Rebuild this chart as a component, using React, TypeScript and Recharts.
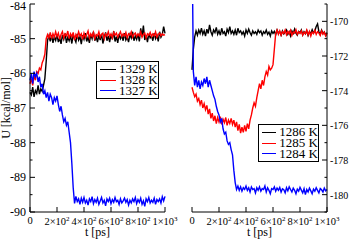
import React from 'react';
import { LineChart, Line, XAxis, YAxis, Legend } from 'recharts';

const FONT = "'Liberation Serif','Times New Roman',serif";

// time samples (ps)
const TIME: number[] = Array.from({ length: 101 }, (_, i) => i * 10);

const X_TICKS = [0, 200, 400, 600, 800, 1000];
const X_TICK_BASE = ['0', '2×10', '4×10', '6×10', '8×10', '1×10'];
const X_TICK_EXP = ['', '2', '2', '2', '2', '3'];

const LEFT_Y_TICKS = [-90, -89.5, -89, -88.5, -88, -87.5, -87, -86.5, -86, -85.5, -85, -84.5, -84];
const RIGHT_Y_TICKS = [-181, -180, -179, -178, -177, -176, -175, -174, -173, -172, -171, -170, -169];

const LEFT_NAMES = ['1329 K', '1328 K', '1327 K'];
const RIGHT_NAMES = ['1286 K', '1285 K', '1284 K'];
const COLORS = ['#000000', '#ff0000', '#0000ff'];

// Left panel, 1329 K
const L1329 = [
  -86.55, -86.62, -86.40, -86.68, -86.50, -86.58, -86.35, -86.60, -86.45, -86.52,
  -86.35, -86.15, -85.65, -85.05, -84.92, -85.08, -84.90, -85.12, -84.95, -85.05,
  -84.88, -85.10, -84.98, -85.15, -84.90, -85.02, -84.85, -85.12, -84.96, -85.06,
  -84.92, -85.14, -84.88, -85.00, -85.10, -84.86, -85.04, -84.94, -85.16, -84.90,
  -85.02, -84.84, -85.08, -84.96, -85.12, -84.88, -85.00, -84.80, -85.06, -84.94,
  -85.10, -84.90, -85.04, -84.86, -85.14, -84.96, -84.82, -85.06, -84.92, -85.10,
  -84.88, -85.02, -84.78, -85.08, -84.94, -85.12, -84.86, -85.00, -84.92, -85.06,
  -84.84, -85.04, -84.96, -85.10, -84.88, -84.98, -84.80, -85.06, -84.92, -85.02,
  -84.86, -85.08, -84.70, -84.94, -84.62, -85.04, -84.90, -85.10, -84.86, -84.98,
  -84.92, -85.06, -84.84, -85.00, -84.90, -85.08, -84.80, -84.96, -84.88, -84.65,
  -84.85,
];

// Left panel, 1328 K
const L1328 = [
  -86.30, -86.15, -86.35, -86.05, -86.20, -85.95, -86.00, -85.85, -85.90, -85.70,
  -85.60, -85.45, -85.00, -84.88, -84.98, -84.82, -85.00, -84.86, -84.96, -84.80,
  -84.94, -84.84, -85.02, -84.88, -84.80, -84.98, -84.86, -84.92, -84.78, -85.00,
  -84.86, -84.94, -84.82, -85.04, -84.88, -84.96, -84.80, -84.92, -84.86, -85.02,
  -84.84, -84.96, -84.88, -84.78, -84.98, -84.86, -84.94, -84.82, -85.00, -84.88,
  -84.92, -84.80, -84.96, -84.88, -84.84, -85.00, -84.86, -84.92, -84.80, -84.94,
  -84.86, -84.98, -84.82, -84.90, -84.84, -84.96, -84.88, -84.80, -84.94, -84.86,
  -84.92, -84.82, -84.98, -84.86, -84.90, -84.80, -84.96, -84.88, -84.84, -84.94,
  -84.86, -84.92, -84.80, -84.96, -84.88, -84.84, -84.98, -84.86, -84.90, -84.82,
  -84.94, -84.86, -84.92, -84.80, -84.96, -84.88, -84.84, -84.92, -84.86, -84.90,
  -84.88,
];

// Left panel, 1327 K
const L1327 = [
  -86.20, -86.00, -86.30, -85.95, -86.10, -86.00, -86.25, -86.10, -86.40, -86.30,
  -86.60, -86.50, -86.70, -86.55, -86.80, -86.60, -86.70, -86.90, -86.70, -86.80,
  -86.65, -86.90, -87.10, -86.95, -87.20, -87.40, -87.30, -87.50, -87.40, -87.70,
  -88.00, -88.60, -89.30, -89.75, -89.55, -89.70, -89.62, -89.78, -89.60, -89.72,
  -89.58, -89.74, -89.66, -89.80, -89.62, -89.70, -89.56, -89.76, -89.64, -89.72,
  -89.60, -89.78, -89.68, -89.58, -89.74, -89.66, -89.82, -89.62, -89.70, -89.60,
  -89.76, -89.64, -89.72, -89.58, -89.70, -89.66, -89.78, -89.62, -89.74, -89.68,
  -89.60, -89.72, -89.64, -89.80, -89.66, -89.74, -89.62, -89.70, -89.58, -89.76,
  -89.64, -89.72, -89.60, -89.78, -89.68, -89.84, -89.62, -89.70, -89.58, -89.74,
  -89.66, -89.72, -89.60, -89.78, -89.64, -89.70, -89.62, -89.74, -89.56, -89.68,
  -89.55,
];

// Right panel, 1286 K
const R1286 = [
  -172.80, -171.60, -170.90, -170.55, -170.80, -170.50, -170.70, -170.40, -170.75, -170.55,
  -170.85, -170.45, -170.70, -170.20, -170.60, -170.80, -170.50, -170.65, -170.35, -170.75,
  -170.55, -170.80, -170.40, -170.70, -170.60, -170.85, -170.45, -170.65, -170.30, -170.70,
  -170.55, -170.75, -170.50, -170.80, -170.40, -170.65, -170.55, -170.75, -170.60, -170.85,
  -170.50, -170.70, -170.45, -170.65, -170.80, -170.55, -170.70, -170.60, -170.75, -170.50,
  -170.65, -170.55, -170.80, -170.60, -170.70, -170.50, -170.75, -170.62, -170.85, -170.55,
  -170.70, -170.58, -170.78, -170.50, -170.68, -170.60, -170.80, -170.55, -170.72, -170.62,
  -170.50, -170.75, -170.60, -170.85, -170.55, -170.70, -170.45, -170.68, -170.80, -170.58,
  -170.65, -170.50, -170.78, -170.60, -170.72, -170.55, -170.82, -170.62, -170.70, -170.48,
  -170.68, -170.55, -170.30, -170.15, -170.60, -170.75, -170.50, -170.70, -170.62, -170.80,
  -170.65,
];

// Right panel, 1285 K
const R1285 = [
  -173.80, -174.10, -174.35, -174.20, -174.60, -174.45, -174.80, -174.55, -175.00, -174.75,
  -175.10, -174.85, -175.35, -175.05, -175.60, -175.30, -175.75, -175.45, -175.90, -175.55,
  -175.80, -175.50, -175.95, -175.65, -175.85, -175.55, -176.00, -175.70, -175.90, -175.60,
  -175.95, -175.70, -176.10, -175.80, -176.30, -175.95, -176.45, -176.10, -176.40, -176.00,
  -176.35, -175.90, -176.20, -175.70, -175.40, -175.00, -174.70, -174.90, -174.40, -174.00,
  -173.60, -173.90, -173.40, -173.70, -173.20, -172.90, -173.10, -172.60, -172.80, -172.70,
  -172.50, -171.60, -170.70, -170.50, -170.75, -170.55, -170.80, -170.60, -170.70, -170.50,
  -170.78, -170.58, -170.72, -170.52, -170.82, -170.62, -170.68, -170.48, -170.75, -170.60,
  -170.70, -170.55, -170.80, -170.62, -170.72, -170.50, -170.78, -170.58, -170.85, -170.62,
  -170.70, -170.52, -170.76, -170.60, -170.68, -170.82, -170.55, -170.74, -170.62, -170.85,
  -170.70,
];

// Right panel, 1284 K
const R1284 = [
  -165.00, -172.90, -173.70, -173.20, -173.80, -173.40, -173.90, -173.50, -173.70, -173.30,
  -173.60, -173.20, -173.80, -173.40, -173.70, -174.00, -174.30, -174.50, -174.90, -175.20,
  -175.40, -175.80, -175.60, -176.20, -176.50, -176.40, -176.90, -177.10, -177.00, -177.40,
  -177.70, -178.60, -179.30, -179.70, -179.50, -179.75, -179.55, -179.80, -179.60, -179.70,
  -179.50, -179.75, -179.60, -179.85, -179.55, -179.70, -179.65, -179.90, -179.60, -179.75,
  -179.55, -179.80, -179.65, -179.70, -179.50, -179.85, -179.60, -179.75, -179.95, -179.65,
  -179.70, -179.55, -179.80, -179.62, -179.75, -179.58, -179.85, -179.66, -179.72, -179.90,
  -179.60, -179.78, -179.55, -179.70, -179.85, -179.62, -179.75, -179.95, -179.68, -179.80,
  -179.58, -179.74, -179.90, -179.65, -180.00, -179.70, -179.85, -179.62, -179.78, -179.95,
  -179.68, -179.80, -179.60, -179.75, -179.90, -179.65, -179.72, -179.85, -179.62, -179.78,
  -179.70,
];

function makeRows(keys: string[], series: number[][]) {
  return TIME.map((t, i) => {
    const r: any = { t };
    keys.forEach((k, j) => { r[k] = series[j][i]; });
    return r;
  });
}

const KEYS = ['a', 'b', 'c'];
const leftRows = makeRows(KEYS, [L1329, L1328, L1327]);
const rightRows = makeRows(KEYS, [R1286, R1285, R1284]);

const BottomTick = (props: any) => {
  const { x, y, payload } = props;
  const idx = X_TICKS.indexOf(payload.value);
  const base = X_TICK_BASE[idx] ?? '';
  const exp = X_TICK_EXP[idx] ?? '';
  return (
    <g>
      <line x1={x} y1={y} x2={x} y2={y - 5} stroke="#000" strokeWidth={1} />
      <text x={x} y={exp ? y + 13 : y + 12} textAnchor="middle" fontSize={10.5} fontFamily={FONT} fill="#000">
        {base}
        {exp ? <tspan dy={-4} fontSize={7}>{exp}</tspan> : null}
      </text>
    </g>
  );
};

const TopTick = (props: any) => {
  const { x, y } = props;
  return <line x1={x} y1={y} x2={x} y2={y + 5} stroke="#000" strokeWidth={1} />;
};

const makeYTick = (side: 'left' | 'right', majorStep: number, labelSide: 'none' | 'left' | 'right', fs: number, gap: number) => (props: any) => {
  const { x, y, payload } = props;
  const v = payload.value as number;
  const q = v / majorStep;
  const major = Math.abs(q - Math.round(q)) < 1e-6;
  const len = major ? 5 : 2.5;
  const dir = side === 'left' ? 1 : -1;
  const baseline = Math.max(y + 4, 10);
  return (
    <g>
      <line x1={x} y1={y} x2={x + dir * len} y2={y} stroke="#000" strokeWidth={1} />
      {major && labelSide !== 'none' ? (
        <text
          x={labelSide === 'left' ? x - gap : x + gap}
          y={baseline}
          textAnchor={labelSide === 'left' ? 'end' : 'start'}
          fontSize={fs}
          fontFamily={FONT}
          fill="#000"
        >
          {String(v)}
        </text>
      ) : null}
    </g>
  );
};

const makeLegendBox = (order: string[]) => (props: any) => {
  const payload = [...(props.payload || [])].sort(
    (a: any, b: any) => order.indexOf(a.value) - order.indexOf(b.value)
  );
  return (
    <div
      style={{
        boxSizing: 'border-box',
        width: '100%',
        height: '100%',
        border: '1px solid #000',
        background: '#fff',
        paddingTop: 2,
      }}
    >
      {payload.map((p: any) => (
        <div key={p.value} style={{ display: 'flex', alignItems: 'center', height: 10.8, paddingLeft: 3 }}>
          <span
            style={{
              display: 'inline-block',
              width: 16,
              height: 0,
              borderTop: `1.5px solid ${p.color}`,
              marginRight: 3,
            }}
          />
          <span
            style={{
              display: 'block',
              height: 10.8,
              overflow: 'visible',
              fontFamily: FONT,
              fontSize: 13,
              lineHeight: '10.8px',
              color: '#000',
              whiteSpace: 'nowrap',
            }}
          >
            {p.value}
          </span>
        </div>
      ))}
    </div>
  );
};

const LeftLegendBox = makeLegendBox(LEFT_NAMES);
const RightLegendBox = makeLegendBox(RIGHT_NAMES);

const XTitle = (p: any) => {
  const vb = p.viewBox || {};
  return (
    <text x={vb.x + vb.width / 2} y={vb.y + 24} textAnchor="middle" fontSize={12} fontFamily={FONT} fill="#000">
      t [ps]
    </text>
  );
};

const YTitle = (p: any) => {
  const vb = p.viewBox || {};
  const cx = 10;
  const cy = vb.y + vb.height / 2;
  return (
    <text x={cx} y={cy} transform={`rotate(-90, ${cx}, ${cy})`} textAnchor="middle" fontSize={12} fontFamily={FONT} fill="#000">
      U [kcal/mol]
    </text>
  );
};

const axisStroke = { stroke: '#000', strokeWidth: 1 };

export default function App() {
  return (
    <div style={{ position: 'absolute', left: 0, top: 0, width: 349, height: 242, background: '#fff', overflow: 'hidden' }}>
      <div style={{ position: 'absolute', left: 0, top: 0 }}>
        <LineChart width={180} height={242} data={leftRows} margin={{ top: 4, right: 15, bottom: 0, left: 0 }}>
          <XAxis
            xAxisId="b"
            dataKey="t"
            type="number"
            domain={[0, 1000]}
            ticks={X_TICKS}
            interval={0}
            height={30}
            tickSize={0}
            tickMargin={0}
            tickLine={false}
            axisLine={axisStroke}
            tick={BottomTick}
            label={{ content: XTitle }}
          />
          <XAxis
            xAxisId="t"
            orientation="top"
            dataKey="t"
            type="number"
            domain={[0, 1000]}
            ticks={X_TICKS}
            interval={0}
            height={0}
            tickSize={0}
            tickMargin={0}
            tickLine={false}
            axisLine={axisStroke}
            tick={TopTick}
          />
          <YAxis
            yAxisId="l"
            type="number"
            domain={[-90, -84]}
            allowDataOverflow
            ticks={LEFT_Y_TICKS}
            interval={0}
            width={30}
            tickSize={0}
            tickMargin={0}
            tickLine={false}
            axisLine={axisStroke}
            tick={makeYTick('left', 1, 'left', 12, 4)}
            label={{ content: YTitle }}
          />
          <YAxis
            yAxisId="m"
            orientation="right"
            type="number"
            domain={[-90, -84]}
            allowDataOverflow
            ticks={LEFT_Y_TICKS}
            interval={0}
            width={0}
            tickSize={0}
            tickMargin={0}
            tickLine={false}
            axisLine={axisStroke}
            tick={makeYTick('right', 1, 'none', 12, 4)}
          />
          {KEYS.map((k, i) => (
            <Line
              key={k}
              xAxisId="b"
              yAxisId="l"
              dataKey={k}
              name={LEFT_NAMES[i]}
              stroke={COLORS[i]}
              strokeWidth={1.4}
              dot={false}
              activeDot={false}
              isAnimationActive={false}
            />
          ))}
          <Legend
            layout="vertical"
            align="center"
            verticalAlign="middle"
            content={LeftLegendBox}
            wrapperStyle={{ left: 96, top: 61, width: 63, height: 38 }}
          />
        </LineChart>
      </div>
      <div style={{ position: 'absolute', left: 175, top: 0 }}>
        <LineChart width={174} height={242} data={rightRows} margin={{ top: 4, right: 0, bottom: 0, left: 17 }}>
          <XAxis
            xAxisId="b"
            dataKey="t"
            type="number"
            domain={[0, 1000]}
            ticks={X_TICKS}
            interval={0}
            height={30}
            tickSize={0}
            tickMargin={0}
            tickLine={false}
            axisLine={axisStroke}
            tick={BottomTick}
            label={{ content: XTitle }}
          />
          <XAxis
            xAxisId="t"
            orientation="top"
            dataKey="t"
            type="number"
            domain={[0, 1000]}
            ticks={X_TICKS}
            interval={0}
            height={0}
            tickSize={0}
            tickMargin={0}
            tickLine={false}
            axisLine={axisStroke}
            tick={TopTick}
          />
          <YAxis
            yAxisId="m"
            type="number"
            domain={[-181, -169]}
            allowDataOverflow
            ticks={RIGHT_Y_TICKS}
            interval={0}
            width={0}
            tickSize={0}
            tickMargin={0}
            tickLine={false}
            axisLine={axisStroke}
            tick={makeYTick('left', 2, 'none', 10, 3)}
          />
          <YAxis
            yAxisId="r"
            orientation="right"
            type="number"
            domain={[-181, -169]}
            allowDataOverflow
            ticks={RIGHT_Y_TICKS}
            interval={0}
            width={22}
            tickSize={0}
            tickMargin={0}
            tickLine={false}
            axisLine={axisStroke}
            tick={makeYTick('right', 2, 'right', 10, 3)}
          />
          {KEYS.map((k, i) => (
            <Line
              key={k}
              xAxisId="b"
              yAxisId="r"
              dataKey={k}
              name={RIGHT_NAMES[i]}
              stroke={COLORS[i]}
              strokeWidth={1.4}
              dot={false}
              activeDot={false}
              isAnimationActive={false}
            />
          ))}
          <Legend
            layout="vertical"
            align="center"
            verticalAlign="middle"
            content={RightLegendBox}
            wrapperStyle={{ left: 83, top: 124, width: 61, height: 38 }}
          />
        </LineChart>
      </div>
    </div>
  );
}
